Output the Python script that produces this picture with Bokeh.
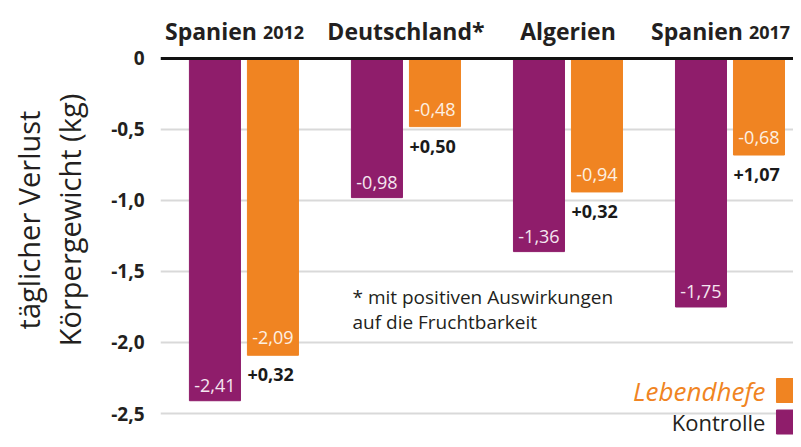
from bokeh.plotting import figure
from bokeh.models import (ColumnDataSource, Range1d, FixedTicker, Span, Label,
                          LinearAxis)
from bokeh.embed import file_html
from bokeh.resources import INLINE
from bokeh.core.properties import value

# ---- data ----
group_names = ["Spanien", "Deutschland*", "Algerien", "Spanien"]
group_years = ["2012", "", "", "2017"]
kontrolle = [-2.41, -0.98, -1.36, -1.75]
lebendhefe = [-2.09, -0.48, -0.94, -0.68]
differenz = [0.32, 0.50, 0.32, 1.07]
y_ticks = [0, -0.5, -1.0, -1.5, -2.0, -2.5]
y_tick_labels = ["0", "-0,5", "-1,0", "-1,5", "-2,0", "-2,5"]
series_names = ["Lebendhefe", "Kontrolle"]
footnote = ["* mit positiven Auswirkungen", "auf die Fruchtbarkeit"]

PURPLE = "#8f1d6b"
ORANGE = "#f08422"
FONT = "Open Sans"
INK = "#231f20"

def fmt(v, sign=False):
    s = f"{v:+.2f}" if sign else f"{v:.2f}"
    return s.replace(".", ",")

idx = list(range(len(group_names)))
off = 0.179
bw = 0.315
xk = [i - off for i in idx]
xl = [i + off for i in idx]

src_k = ColumnDataSource(dict(x=xk, top=[0] * 4, bottom=kontrolle,
                              lab=[fmt(v) for v in kontrolle]))
src_l = ColumnDataSource(dict(x=xl, top=[0] * 4, bottom=lebendhefe,
                              lab=[fmt(v) for v in lebendhefe],
                              xd=[x - bw / 2 for x in xl],
                              dlab=[fmt(v, True) for v in differenz]))

p = figure(width=793, height=439, output_backend="svg", toolbar_location=None,
           x_range=Range1d(-0.515, 3.392), y_range=Range1d(-2.683, 0.408),
           x_axis_type=None, min_border_left=160, min_border_right=0,
           min_border_top=0, min_border_bottom=0)
p.outline_line_color = None
p.background_fill_color = "white"
p.xgrid.visible = False

# grid
p.ygrid.ticker = FixedTicker(ticks=[t for t in y_ticks if t != 0])
p.ygrid.grid_line_color = "#d9d9d9"
p.ygrid.grid_line_width = 2

# y axis (tick labels + second title line)
ax = p.yaxis[0]
ax.ticker = FixedTicker(ticks=y_ticks)
ax.major_label_overrides = {t: l for t, l in zip(y_ticks, y_tick_labels)}
ax.axis_line_color = None
ax.major_tick_line_color = None
ax.minor_tick_line_color = None
ax.major_label_standoff = 10
ax.major_label_text_font = FONT
ax.major_label_text_font_style = "bold"
ax.major_label_text_font_size = "19px"
ax.major_label_text_color = INK
ax.axis_label = "Körpergewicht (kg)"
ax.axis_label_text_font = FONT
ax.axis_label_text_font_style = "normal"
ax.axis_label_text_font_size = "29px"
ax.axis_label_text_color = INK
ax.axis_label_standoff = 19

ax2 = LinearAxis(ticker=FixedTicker(ticks=[]), axis_line_color=None,
                 major_tick_line_color=None, minor_tick_line_color=None,
                 major_label_text_font_size="0px", axis_label="täglicher Verlust",
                 axis_label_text_font=FONT, axis_label_text_font_style="normal",
                 axis_label_text_font_size="29px", axis_label_text_color=INK,
                 axis_label_standoff=0)
p.add_layout(ax2, "left")

# bars
p.vbar(x="x", top="top", bottom="bottom", width=bw, color=PURPLE, source=src_k)
p.vbar(x="x", top="top", bottom="bottom", width=bw, color=ORANGE, source=src_l)

# zero line
p.add_layout(Span(location=0, dimension="width", line_color="#111111", line_width=3))

# value labels inside bars
p.text(x="x", y="bottom", text="lab", source=src_k, text_align="center",
       text_baseline="bottom", y_offset=-9, text_color="#f5e6f0",
       text_font=value(FONT), text_font_size="18px")
p.text(x="x", y="bottom", text="lab", source=src_l, text_align="center",
       text_baseline="bottom", y_offset=-11, text_color="#fdf0e2",
       text_font=value(FONT), text_font_size="18px")
# difference labels
p.text(x="xd", y="bottom", text="dlab", source=src_l, text_align="left",
       text_baseline="top", y_offset=13, text_color="#1a1a1a",
       text_font=value(FONT), text_font_style="bold", text_font_size="18px")

# group titles
single = [i for i in idx if not group_years[i]]
dual = [i for i in idx if group_years[i]]
src_s = ColumnDataSource(dict(x=[i for i in single],
                              y=[0] * len(single),
                              t=[group_names[i] for i in single]))
src_d = ColumnDataSource(dict(x=[i for i in dual],
                              y=[0] * len(dual),
                              t=[group_names[i] for i in dual],
                              yr=[group_years[i] for i in dual]))
TY = -27
p.text(x="x", y="y", text="t", source=src_s, text_align="center",
       text_baseline="middle", y_offset=TY, text_color=INK,
       text_font=value(FONT), text_font_style="bold", text_font_size="23px")
p.text(x="x", y="y", text="t", source=src_d, text_align="right",
       text_baseline="middle", x_offset=13, y_offset=TY, text_color=INK,
       text_font=value(FONT), text_font_style="bold", text_font_size="23px")
p.text(x="x", y="y", text="yr", source=src_d, text_align="left",
       text_baseline="middle", x_offset=19, y_offset=TY + 1, text_color=INK,
       text_font=value(FONT), text_font_style="bold", text_font_size="18px")

# footnote
for k, line in enumerate(footnote):
    p.add_layout(Label(x=0.67, y=-1.683 - 0.176 * k, text=line,
                       text_baseline="middle", text_font=FONT,
                       text_font_size="19px", text_color=INK))

# legend (swatch on the right of the label)
leg_src = ColumnDataSource(dict(x=[3.361, 3.361], y=[-2.338, -2.56],
                                c=[ORANGE, PURPLE]))
p.scatter(x="x", y="y", marker="square", size=24, color="c", source=leg_src)
leg_a = ColumnDataSource(dict(tx=[3.219], y=[-2.338], t=[series_names[0]]))
leg_b = ColumnDataSource(dict(tx=[3.219], y=[-2.56], t=[series_names[1]]))
p.text(x="tx", y="y", text="t", source=leg_a, text_align="right",
       text_baseline="middle", text_color=ORANGE, text_font=value(FONT),
       text_font_style="italic", text_font_size="26px")
p.text(x="tx", y="y", text="t", source=leg_b, text_align="right",
       text_baseline="middle", text_color=INK, text_font=value(FONT),
       text_font_size="22px")

open("out.html", "w").write(file_html(p, INLINE))
